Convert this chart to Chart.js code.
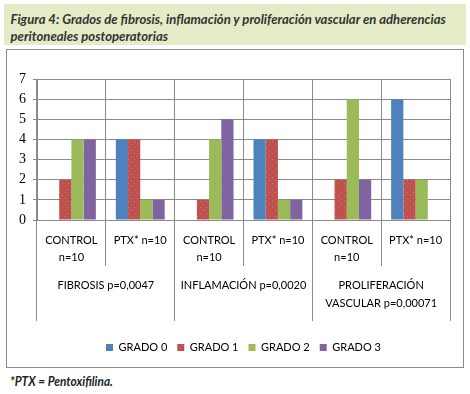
<!DOCTYPE html>
<html>
<head>
<meta charset="utf-8">
<script src="https://cdn.jsdelivr.net/npm/chart.js@4.4.0/dist/chart.umd.min.js"></script>
<style>
    body { margin: 0; width: 470px; height: 394px; background: #fff; position: relative; overflow: hidden; }
    #titulo { position: absolute; left: 4px; top: 4px; width: 462px; height: 41px; background: #e4ebc7; }
    #titulo p { margin: 0; padding: 6px 0 0 7px; font: italic bold 14px/17px Lato, sans-serif; color: #333;
        white-space: nowrap; transform: scaleX(0.935); transform-origin: left top; }
    #caja { position: absolute; left: 6px; top: 49px; width: 456px; height: 317px; border: 1px solid #8c8c8c; }
    #nota { position: absolute; left: 10px; top: 373px; font: italic bold 13px Lato, sans-serif; color: #222;
        white-space: nowrap; transform: scaleX(0.91); transform-origin: left top; }
</style>
</head>
<body>
<div id="titulo"><p>Figura 4: Grados de fibrosis, inflamación y proliferación vascular en adherencias<br>peritoneales postoperatorias</p></div>
<div id="caja"><canvas id="grafico" width="456" height="317"></canvas></div>
<div id="nota">*PTX = Pentoxifilina.</div>
<script>
// --- Datos ---
const categorias = [["CONTROL", "n=10"], "PTX* n=10", ["CONTROL", "n=10"], "PTX* n=10", ["CONTROL", "n=10"], "PTX* n=10"];
const grupos = ["FIBROSIS p=0,0047", "INFLAMACIÓN p=0,0020", ["PROLIFERACIÓN", "VASCULAR p=0,00071"]];
const grado0 = [0, 4, 0, 4, 0, 6];
const grado1 = [2, 4, 1, 4, 2, 2];
const grado2 = [4, 1, 4, 1, 6, 2];
const grado3 = [4, 1, 5, 1, 2, 0];
const nombresSeries = ["GRADO 0", "GRADO 1", "GRADO 2", "GRADO 3"];
const coloresSeries = ["#4f81bd", "#c0504d", "#9bbb59", "#8064a2"];

const gris = "#8a8a8a";
const fuente = "Lato, sans-serif";

// textura punteada de las barras rojas
function tramaPuntos(base) {
    const c = document.createElement("canvas");
    c.width = 6; c.height = 6;
    const g = c.getContext("2d");
    g.fillStyle = base;
    g.fillRect(0, 0, 6, 6);
    g.fillStyle = "#b9806c";
    g.fillRect(1, 1, 1, 1);
    g.fillRect(4, 4, 1, 1);
    return g.createPattern(c, "repeat");
}

// --- Grafico ---
const ctx = document.getElementById("grafico").getContext("2d");
new Chart(ctx, {
    type: "bar",
    data: {
        labels: categorias,
        datasets: [grado0, grado1, grado2, grado3].map((datos, i) => ({
            label: nombresSeries[i],
            data: datos,
            backgroundColor: i === 1 ? tramaPuntos(coloresSeries[i]) : coloresSeries[i],
            borderWidth: 0,
            categoryPercentage: 0.71,
            barPercentage: 1
        }))
    },
    options: {
        responsive: false,
        animation: false,
        devicePixelRatio: 1,
        layout: { padding: { top: 29, right: 13, bottom: 4, left: 0 } },
        plugins: {
            legend: {
                position: "bottom",
                fullSize: false,
                labels: { boxWidth: 7, boxHeight: 7, padding: 10, color: "#000", font: { family: fuente, size: 11 } }
            },
            tooltip: { enabled: false }
        },
        scales: {
            y: {
                min: 0, max: 7,
                ticks: { stepSize: 1, padding: 7, color: "#000", font: { family: "Liberation Serif", size: 14 } },
                grid: { color: gris, tickLength: 4 },
                border: { color: gris },
                afterFit: s => { s.width = 30; }
            },
            x: {
                grid: { offset: true, color: gris, tickLength: 46 },
                border: { color: gris },
                ticks: { maxRotation: 0, autoSkip: false, padding: -34, color: "#000", font: { family: fuente, size: 11, lineHeight: 1.55 } },
                afterFit: s => { s.height = 46; }
            },
            x2: {
                type: "category",
                position: "bottom",
                labels: grupos,
                offset: true,
                grid: { offset: true, drawOnChartArea: false, color: gris, tickLength: 55 },
                border: { display: false },
                ticks: { maxRotation: 0, autoSkip: false, padding: -45, color: "#000", font: { family: fuente, size: 11, lineHeight: 1.65 } },
                afterFit: s => { s.height = 66; }
            }
        }
    }
});
</script>
</body>
</html>
